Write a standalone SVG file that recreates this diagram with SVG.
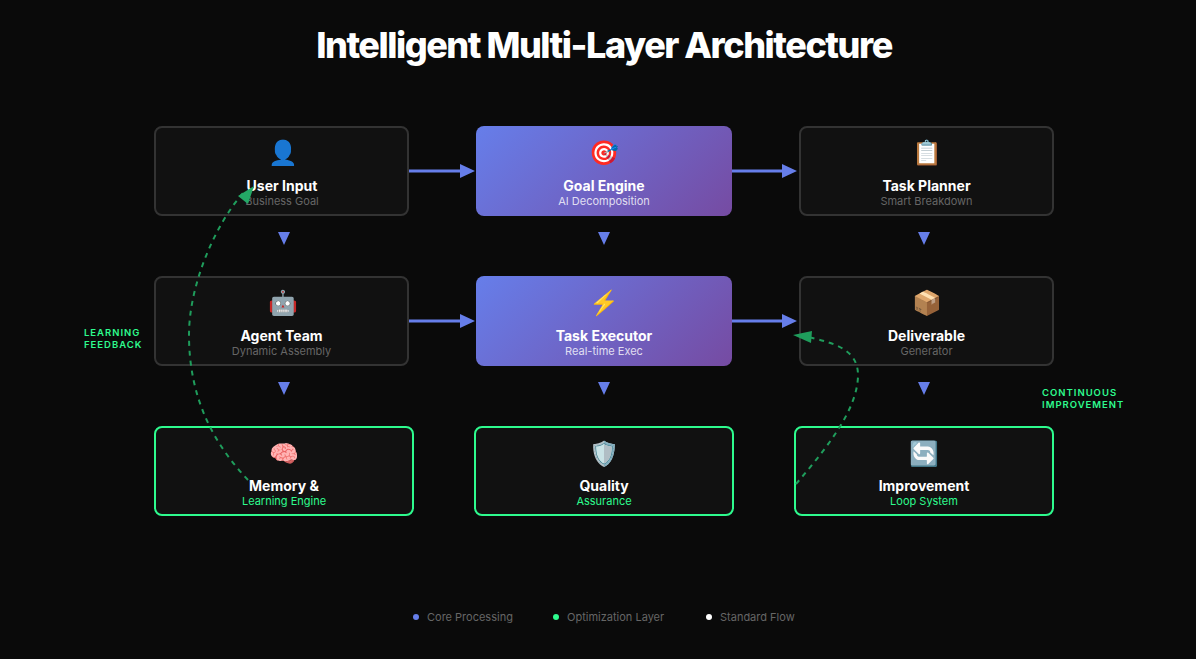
<svg xmlns="http://www.w3.org/2000/svg" width="1196" height="659" viewBox="0 0 1196 659">
<style>
text{font-family:Inter,"Liberation Sans",sans-serif;text-anchor:middle}
.t{font-size:14px;font-weight:700;fill:#fff}
.s{font-size:11px;fill:#666}
.sp{font-size:11px;fill:rgba(255,255,255,.8)}
.sg{font-size:11px;fill:#2efb8e}
.i{font-size:24px;font-family:"Noto Color Emoji","Apple Color Emoji",Inter,sans-serif}
.n{fill:#111;stroke:#333;stroke-width:2}
.o{fill:#111;stroke:#2efb8e;stroke-width:2}
.l{font-size:9.500px;font-weight:600;fill:#2efb8e;letter-spacing:1px;text-anchor:start}
.g{font-size:11px;fill:#666;text-anchor:start}
.a{stroke:#667eea;stroke-width:3;fill:none}
.h{fill:#667eea}
.f{fill:none;stroke:#1f9d5c;stroke-width:2;stroke-dasharray:5 5}
</style>
<defs>
<linearGradient id="p" gradientUnits="userSpaceOnUse" x1="517.5" y1="84.5" x2="690.5" y2="257.5"><stop offset="0" stop-color="#667eea"/><stop offset="1" stop-color="#764ba2"/></linearGradient>
<linearGradient id="q" gradientUnits="userSpaceOnUse" x1="517.5" y1="234.5" x2="690.5" y2="407.5"><stop offset="0" stop-color="#667eea"/><stop offset="1" stop-color="#764ba2"/></linearGradient>
</defs>
<rect width="1196" height="659" fill="#0a0a0a"/>
<text x="604" y="58" font-size="36" font-weight="800" fill="#fff" letter-spacing="-1.47">Intelligent Multi-Layer Architecture</text>
<g id="n1"><rect class="n" x="155" y="127" width="253" height="88" rx="7"/><text class="i" x="283" y="161">👤</text><text class="t" x="282" y="191">User Input</text><text class="s" x="282" y="205">Business Goal</text></g>
<g id="n2"><rect fill="url(#p)" x="476" y="126" width="256" height="90" rx="8"/><text class="i" x="604" y="161">🎯</text><text class="t" x="604" y="191">Goal Engine</text><text class="sp" x="604" y="205">AI Decomposition</text></g>
<g id="n3"><rect class="n" x="800" y="127" width="253" height="88" rx="7"/><text class="i" x="927" y="161">📋</text><text class="t" x="926.500" y="191">Task Planner</text><text class="s" x="926.500" y="205">Smart Breakdown</text></g>
<g id="n4"><rect class="n" x="155" y="277" width="253" height="88" rx="7"/><text class="i" x="283" y="311">🤖</text><text class="t" x="281.500" y="341">Agent Team</text><text class="s" x="281.500" y="355">Dynamic Assembly</text></g>
<g id="n5"><rect fill="url(#q)" x="476" y="276" width="256" height="90" rx="8"/><text class="i" x="604" y="311">⚡</text><text class="t" x="604" y="341">Task Executor</text><text class="sp" x="604" y="355">Real-time Exec</text></g>
<g id="n6"><rect class="n" x="800" y="277" width="253" height="88" rx="7"/><text class="i" x="927" y="311">📦</text><text class="t" x="926.500" y="341">Deliverable</text><text class="s" x="926.500" y="355">Generator</text></g>
<g id="n7"><rect class="o" x="155" y="427" width="258" height="88" rx="7"/><text class="i" x="284" y="462">🧠</text><text class="t" x="284" y="491">Memory &amp;</text><text class="sg" x="284" y="505">Learning Engine</text></g>
<g id="n8"><rect class="o" x="475" y="427" width="258" height="88" rx="7"/><text class="i" x="604" y="462">🛡️</text><text class="t" x="604" y="491">Quality</text><text class="sg" x="604" y="505">Assurance</text></g>
<g id="n9"><rect class="o" x="795" y="427" width="258" height="88" rx="7"/><text class="i" x="924" y="462">🔄</text><text class="t" x="924" y="491">Improvement</text><text class="sg" x="924" y="505">Loop System</text></g>
<g id="connectors">
<path class="a" d="M409 171H461M409 321H461M732 171H783M732 321H783"/>
<path class="h" d="M460 164l15 7-15 7zM460 314l15 7-15 7zM782 164l15 7-15 7zM782 314l15 7-15 7z"/>
<path class="h" d="M278 232h12l-6 13zM598 232h12l-6 13zM918 232h12l-6 13zM278 382h12l-6 13zM598 382h12l-6 13zM918 382h12l-6 13z"/>
<path class="f" d="M248 480C215 445 189 400 189 335C189 285 215 225 243 193"/>
<path fill="#24a866" d="M254 186L238 196L248 204z"/>
<path class="f" d="M796 484C825 450 858 410 858 375C858 350 835 343 808 337"/>
<path fill="#1f9d5c" d="M793 335L812 331L811 343z"/>
</g>
<g id="labels">
<text class="l" x="84" y="336">LEARNING</text><text class="l" x="84" y="348">FEEDBACK</text>
<text class="l" x="1042" y="396">CONTINUOUS</text><text class="l" x="1042" y="408">IMPROVEMENT</text>
</g>
<g id="legend">
<circle cx="416" cy="617" r="3" fill="#667eea"/><text class="g" x="427" y="621">Core Processing</text>
<circle cx="556" cy="617" r="3" fill="#2efb8e"/><text class="g" x="567" y="621">Optimization Layer</text>
<circle cx="709" cy="617" r="3" fill="#fff"/><text class="g" x="720" y="621">Standard Flow</text>
</g>
</svg>
